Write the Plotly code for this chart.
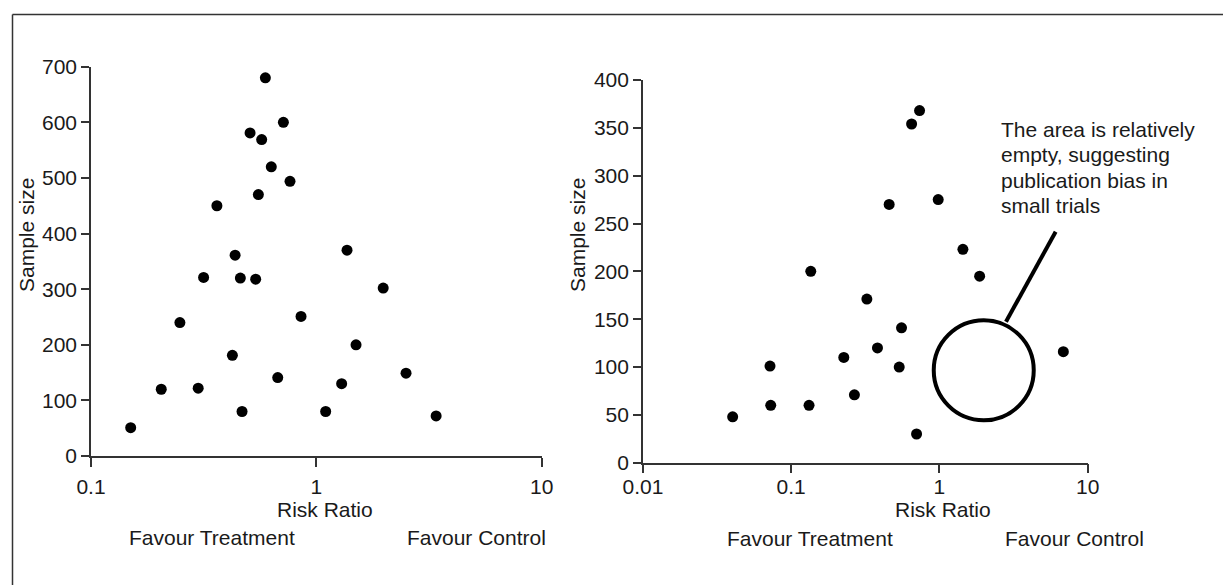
import plotly.graph_objects as go

# ---------------- data ----------------
left_rr = [0.150, 0.205, 0.248, 0.299, 0.316, 0.362, 0.424, 0.436, 0.460, 0.468,
           0.508, 0.538, 0.553, 0.572, 0.594, 0.631, 0.674, 0.714, 0.764, 0.855,
           1.10, 1.295, 1.368, 1.50, 1.98, 2.50, 3.40]
left_n = [51, 120, 240, 122, 321, 450, 181, 361, 320, 80,
          581, 318, 470, 569, 680, 520, 141, 600, 494, 251,
          80, 130, 370, 200, 302, 149, 72]

right_rr = [0.0403, 0.0720, 0.0728, 0.132, 0.1356, 0.2265, 0.267, 0.324, 0.382, 0.458,
            0.5355, 0.555, 0.649, 0.701, 0.7345, 0.981, 1.44, 1.867, 6.85]
right_n = [48, 101, 60, 60, 200, 110, 71, 171, 120, 270,
           100, 141, 354, 30, 368, 275, 223, 195, 116]

left_yticks = [0, 100, 200, 300, 400, 500, 600, 700]
right_yticks = [0, 50, 100, 150, 200, 250, 300, 350, 400]
left_xticks = [0.1, 1, 10]
left_xticktext = ["0.1", "1", "10"]
right_xticks = [0.01, 0.1, 1, 10]
right_xticktext = ["0.01", "0.1", "1", "10"]

# highlighted empty area and pointer (right panel, data units)
circle_rr = [1.99]
circle_n = [96.6]
pointer_rr = [2.81, 6.08]
pointer_n = [147.4, 241.4]
note_lines = ["The area is relatively", "empty, suggesting",
              "publication bias in", "small trials"]

# ---------------- layout geometry ----------------
W, H = 1223, 585
FONT = "Liberation Sans, Arial, Helvetica, sans-serif"
TXT = "#1a1a1a"
AX = "#333333"
FS = 21


def px_x(p):
    return p / W


def px_y(p):
    return (H - p) / H


fig = go.Figure()

fig.add_trace(go.Scatter(x=left_rr, y=left_n, mode="markers",
                         marker=dict(color="black", size=11),
                         xaxis="x", yaxis="y", showlegend=False, hoverinfo="x+y"))
fig.add_trace(go.Scatter(x=right_rr, y=right_n, mode="markers",
                         marker=dict(color="black", size=11),
                         xaxis="x2", yaxis="y2", showlegend=False, hoverinfo="x+y"))
fig.add_trace(go.Scatter(x=circle_rr, y=circle_n, mode="markers",
                         marker=dict(symbol="circle-open", size=100, color="black",
                                     line=dict(width=4, color="black")),
                         xaxis="x2", yaxis="y2", showlegend=False, hoverinfo="skip",
                         cliponaxis=False))
fig.add_trace(go.Scatter(x=pointer_rr, y=pointer_n, mode="lines",
                         line=dict(color="black", width=4),
                         xaxis="x2", yaxis="y2", showlegend=False, hoverinfo="skip",
                         cliponaxis=False))

axis_common = dict(showline=True, linecolor=AX, linewidth=1.5, ticks="outside",
                   tickcolor=AX, tickwidth=1.5, showgrid=False, zeroline=False,
                   automargin=False,
                   tickfont=dict(family=FONT, size=FS, color=TXT))

fig.update_layout(
    template="none",
    autosize=False,
    width=W, height=H,
    margin=dict(l=0, r=0, t=0, b=0, pad=0, autoexpand=False),
    paper_bgcolor="white", plot_bgcolor="white",
    font=dict(family=FONT, size=FS, color=TXT),
    xaxis=dict(type="log", range=[-1, 1], domain=[px_x(91), px_x(541.7)],
               tickmode="array", tickvals=left_xticks, ticktext=left_xticktext,
               ticklen=9, anchor="y", ticklabelstandoff=2, **axis_common),
    yaxis=dict(range=[0, 700], domain=[px_y(456), px_y(66.7)],
               tickmode="array", tickvals=left_yticks, ticklen=8,
               anchor="x", **axis_common),
    xaxis2=dict(type="log", range=[-2, 1], domain=[px_x(642.9), px_x(1087.7)],
                tickmode="array", tickvals=right_xticks, ticktext=right_xticktext,
                ticklen=9, anchor="y2", ticklabelstandoff=-5, **axis_common),
    yaxis2=dict(range=[0, 400], domain=[px_y(462.7), px_y(80)],
                tickmode="array", tickvals=right_yticks, ticklen=8,
                anchor="x2", **axis_common),
)

annotations = []


def txt(x, y, s, xanchor="center", angle=0):
    annotations.append(dict(x=px_x(x), y=px_y(y), xref="paper", yref="paper",
                            text=s, showarrow=False, xanchor=xanchor,
                            yanchor="middle", textangle=angle, borderpad=0,
                            font=dict(family=FONT, size=FS, color=TXT)))


# axis titles and side labels
txt(324.7, 509.0, "Risk Ratio")
txt(212, 537.5, "Favour Treatment")
txt(476.7, 537.5, "Favour Control")
txt(942.8, 509.5, "Risk Ratio")
txt(810, 538.0, "Favour Treatment")
txt(1074, 538.0, "Favour Control")
txt(26, 235, "Sample size", angle=-90)
txt(577, 235, "Sample size", angle=-90)

# note text
for i, line in enumerate(note_lines):
    txt(1000, 129.4 + 25.3 * i, line, xanchor="left")

fig.update_layout(annotations=annotations)

# outer frame (top and left edges)
fig.add_shape(type="line", xref="paper", yref="paper",
              x0=px_x(12.5), x1=1.0, y0=px_y(14.5), y1=px_y(14.5),
              line=dict(color=AX, width=1.5))
fig.add_shape(type="line", xref="paper", yref="paper",
              x0=px_x(12.5), x1=px_x(12.5), y0=px_y(14.5), y1=0.0,
              line=dict(color=AX, width=1.5))

fig.write_html("out.html")
